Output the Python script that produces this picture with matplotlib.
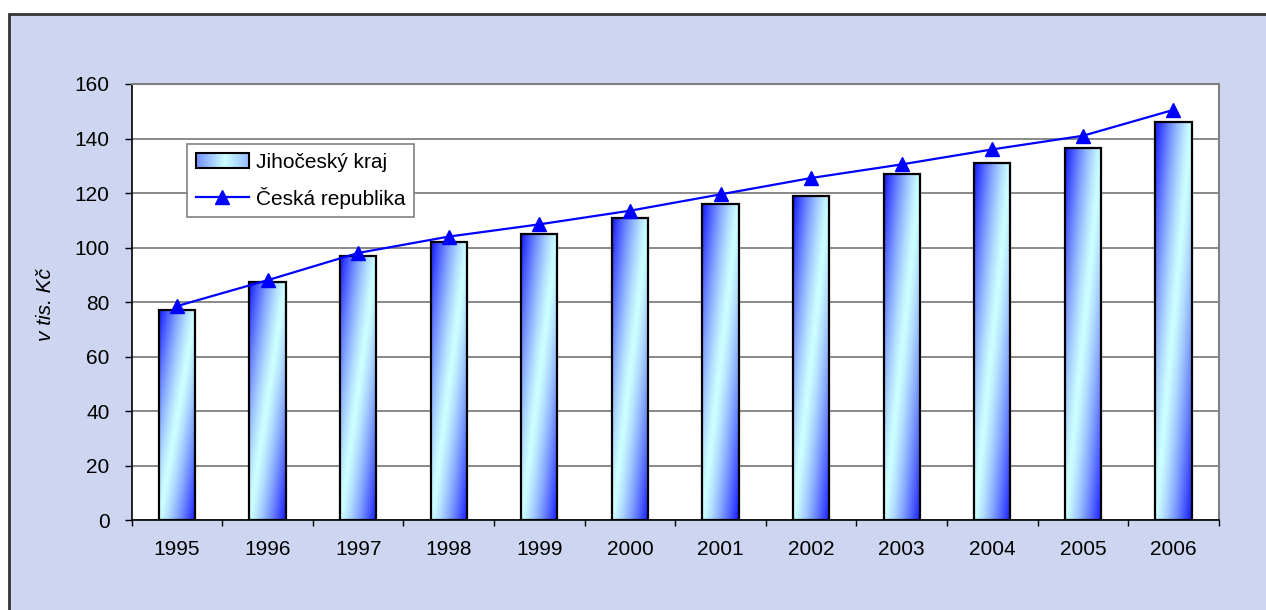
import numpy as np
import matplotlib
matplotlib.use('Agg')
import matplotlib.pyplot as plt
from matplotlib.patches import Rectangle
from matplotlib.legend_handler import HandlerBase

years = ['1995', '1996', '1997', '1998', '1999', '2000',
         '2001', '2002', '2003', '2004', '2005', '2006']
jihocesky_kraj = [77, 87.5, 97, 102, 105, 111, 116, 119, 127, 131, 136.5, 146]
ceska_republika = [78.5, 88, 98, 104, 108.5, 113.5, 119.5, 125.5, 130.5, 136, 141, 150.5]

DARK = np.array([0.08, 0.1, 1.0])
LIGHT = np.array([0.8, 1.0, 1.0])

plt.rcParams['font.family'] = ['Liberation Sans', 'DejaVu Sans']
plt.rcParams['font.size'] = 15


def gradient(nx, ny):
    # diagonal fill: dark at top-left and bottom-right, light in between
    X, Y = np.meshgrid(np.linspace(0, 1, nx), np.linspace(0, 1, ny))
    t = np.abs(X - Y) ** 1.3
    return LIGHT + (DARK - LIGHT) * t[..., None]


class GradientHandler(HandlerBase):
    # legend key: bluish left end, light middle, faint blue right end
    def create_artists(self, legend, orig_handle, xdescent, ydescent,
                       width, height, fontsize, trans):
        nx = 40
        out = []
        for j in range(nx):
            u = (j + 0.5) / nx
            t = np.interp(u, [0, 0.55, 1], [0.5, 0.0, 0.3])
            c = LIGHT + (DARK - LIGHT) * t
            out.append(Rectangle((-xdescent + j * width / nx, -ydescent),
                                 width / nx * 1.05, height,
                                 facecolor=c, edgecolor='none',
                                 antialiased=False, transform=trans))
        out.append(Rectangle((-xdescent, -ydescent), width, height, facecolor='none',
                             edgecolor='black', lw=1.5, transform=trans))
        return out


fig = plt.figure(figsize=(12.66, 6.10), dpi=100)
fig.patch.set_facecolor('white')
fig.add_artist(Rectangle((8.5 / 1266, -0.05), 1.0, 1 - 14 / 610 + 0.05,
                         transform=fig.transFigure, facecolor='#cdd5f1',
                         edgecolor='#333333', lw=2, zorder=-10))

ax = fig.add_axes([0.104, 0.1475, 0.8587, 0.7148])
ax.set_facecolor('white')

x = np.arange(len(years))
width = 0.4
img = gradient(40, 200)
for xi, h in zip(x, jihocesky_kraj):
    ax.imshow(img, extent=[xi - width / 2, xi + width / 2, 0, h], origin='lower',
              aspect='auto', interpolation='bilinear', zorder=2)
ax.bar(x, jihocesky_kraj, width=width, facecolor='none', edgecolor='black',
       lw=1.6, zorder=3)
ax.plot(x, ceska_republika, color='#0000ff', lw=1.6, marker='^', ms=9.5,
        zorder=4, label='Česká republika')

ax.set_xlim(-0.5, len(years) - 0.5)
ax.set_ylim(0, 160)
ax.set_yticks(range(0, 161, 20))
ax.set_xticks(x)
ax.set_xticklabels(years)
ax.set_xticks(np.arange(-0.5, len(years), 1), minor=True)
ax.tick_params(axis='x', which='major', length=0, pad=14.5)
ax.tick_params(axis='x', which='minor', length=4.5, width=1, direction='out')
ax.tick_params(axis='y', length=5, width=1, direction='out', pad=11)

ax.set_axisbelow(True)
ax.yaxis.grid(True, color='#808080', lw=1.3)
for side in ['top', 'right']:
    ax.spines[side].set_color('#808080')
    ax.spines[side].set_linewidth(1.5)
for side in ['left', 'bottom']:
    ax.spines[side].set_color('black')
    ax.spines[side].set_linewidth(1.2)

ax.set_ylabel('v tis. Kč', style='italic')
ax.yaxis.set_label_coords(-0.0706, 0.495)

bar_key = Rectangle((0, 0), 1, 1)
line_key = ax.get_lines()[0]
leg = ax.legend([bar_key, line_key], ['Jihočeský kraj', 'Česká republika'],
                handler_map={bar_key: GradientHandler()},
                loc='upper left', bbox_to_anchor=(0.0512, 0.862), borderaxespad=0,
                fancybox=False, edgecolor='#808080', framealpha=1,
                handlelength=2.55, handletextpad=0.37, labelspacing=0.72,
                borderpad=0.4)
leg.get_frame().set_linewidth(1.2)
leg.set_zorder(5)

fig.savefig('out.png', dpi=100)
